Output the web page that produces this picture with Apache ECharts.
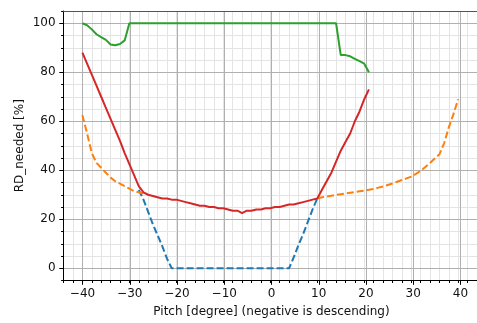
<!DOCTYPE html>
<html>
<head>
<meta charset="utf-8">
<script src="https://cdn.jsdelivr.net/npm/echarts@6/dist/echarts.min.js"></script>
<style>
  html, body { margin: 0; padding: 0; background: #ffffff; }
  #chart { width: 477px; height: 323px; }
</style>
</head>
<body>
<div id="chart"></div>
<script>
// Pitch angle in degrees (negative is descending)
const pitch = [
  -40, -39, -38, -37, -36, -35, -34, -33, -32, -31,
  -30, -29, -28, -27, -26, -25, -24, -23, -22, -21,
  -20, -19, -18, -17, -16, -15, -14, -13, -12, -11,
  -10, -9, -8, -7, -6, -5, -4, -3, -2, -1,
  0, 1, 2, 3, 4, 5, 6, 7, 8, 9,
  10, 11, 12, 13, 14, 15, 16, 17, 18, 19,
  20, 21, 22, 23, 24, 25, 26, 27, 28, 29,
  30, 31, 32, 33, 34, 35, 36, 37, 38, 39,
  40
];

// Required rudder deflection [%] per pitch (null = no value)
const rdBlue = [
  null, null, null, null, null, null, null, null, null, null,
  null, null, 32, 28, 23, 18, 13.5, 9, 4, 0,
  0, 0, 0, 0, 0, 0, 0, 0, 0, 0,
  0, 0, 0, 0, 0, 0, 0, 0, 0, 0,
  0, 0, 0, 0, 0, 4.5, 9.5, 14, 19, 24,
  28.5, null, null, null, null, null, null, null, null, null,
  null, null, null, null, null, null, null, null, null, null,
  null, null, null, null, null, null, null, null, null, null,
  null
];

const rdOrange = [
  62.5, 55, 47, 43, 41, 39, 37, 35.5, 34.5, 33.5,
  32.5, 31.5, 31, 30.5, null, null, null, null, null, null,
  null, null, null, null, null, null, null, null, null, null,
  null, null, null, null, null, null, null, null, null, null,
  null, null, null, null, null, null, null, null, null, null,
  28.5, 29, 29.3, 29.6, 29.9, 30.2, 30.5, 30.8, 31.1, 31.4,
  31.7, 32, 32.4, 32.9, 33.4, 34, 34.6, 35.3, 36, 36.7,
  37.4, 38.5, 39.8, 41.3, 43, 44.8, 46.5, 51, 57.5, 63,
  69
];

const rdGreen = [
  100, 99.2, 97.5, 95.5, 94.3, 93.2, 91.3, 91, 91.5, 93,
  100, 100, 100, 100, 100, 100, 100, 100, 100, 100,
  100, 100, 100, 100, 100, 100, 100, 100, 100, 100,
  100, 100, 100, 100, 100, 100, 100, 100, 100, 100,
  100, 100, 100, 100, 100, 100, 100, 100, 100, 100,
  100, 100, 100, 100, 100, 87, 87, 86.5, 85.5, 84.5,
  83.5, 80
];

const rdRed = [
  88, 83.5, 79, 74.5, 70, 65.5, 61, 56.5, 52, 47,
  42.5, 38, 33.5, 31, 30, 29.5, 29, 28.5, 28.5, 28,
  28, 27.5, 27, 26.5, 26, 25.5, 25.5, 25, 25, 24.5,
  24.5, 24, 23.5, 23.5, 22.5, 23.5, 23.5, 24, 24, 24.5,
  24.5, 25, 25, 25.5, 26, 26, 26.5, 27, 27.5, 28,
  28.5, 32, 35.5, 39, 43.5, 48, 51.5, 55, 60, 64,
  69, 73
];

const xTicks = [-40, -30, -20, -10, 0, 10, 20, 30, 40];
const yTicks = [0, 20, 40, 60, 80, 100];

const FONT = "'DejaVu Sans', 'Liberation Sans', sans-serif";
const MAJOR = '#b0b0b0';
const MINOR = '#e4e4e4';

function pairs(ys) {
  const out = [];
  for (let i = 0; i < ys.length; i++) out.push([pitch[i], ys[i]]);
  return out;
}
function fmt(v) {
  return v < 0 ? '\u2212' + Math.abs(v) : String(v);
}

// plot area: x from -44 to 44, y from -5 to 105
const plot = { left: 63.6, top: 11, width: 415.8, height: 269.5 };
const xSpan = 88, ySpan = 110;
const pxX = plot.width / xSpan, pxY = plot.height / ySpan;

const chart = echarts.init(document.getElementById('chart'), null, { renderer: 'canvas' });

const tickLabel = { fontFamily: FONT, fontSize: 12, color: '#111' };
const spineOnly = {
  axisTick: { show: false }, axisLabel: { show: false }, splitLine: { show: false }
};

chart.setOption({
  animation: false,
  backgroundColor: '#ffffff',
  grid: [
    // data area (minor grid, spines)
    { left: plot.left, top: plot.top, width: plot.width, height: plot.height },
    // major vertical lines / x labels
    { left: plot.left + (xTicks[0] + 44) * pxX, top: plot.top,
      width: (xTicks[xTicks.length - 1] - xTicks[0]) * pxX, height: plot.height },
    // major horizontal lines / y labels
    { left: plot.left, top: plot.top + (105 - yTicks[yTicks.length - 1]) * pxY,
      width: plot.width, height: (yTicks[yTicks.length - 1] - yTicks[0]) * pxY }
  ],
  xAxis: [
    { type: 'value', gridIndex: 0, min: -44, max: 44, interval: 2, z: 0, position: 'bottom',
      axisLine: { show: false, onZero: false },
      axisTick: { show: true, length: 2.5, lineStyle: { color: '#000', width: 1 } },
      axisLabel: { show: false },
      splitLine: { show: true, showMinLine: false, showMaxLine: false,
        lineStyle: { color: MINOR, width: 1 } } },
    { type: 'value', gridIndex: 1, min: xTicks[0], max: xTicks[xTicks.length - 1], interval: 10, z: 1,
      position: 'bottom',
      name: 'Pitch [degree] (negative is descending)',
      nameLocation: 'middle', nameGap: 25.5, nameMoveOverlap: false,
      nameTextStyle: { fontFamily: FONT, fontSize: 12, color: '#111' },
      axisLine: { show: false, onZero: false },
      axisTick: { show: true, length: 4.3, lineStyle: { color: '#000', width: 1 } },
      axisLabel: Object.assign({ margin: 7.5, formatter: fmt }, tickLabel),
      splitLine: { show: true, lineStyle: { color: MAJOR, width: 1 } } },
    { type: 'value', gridIndex: 2, min: -44, max: 44, show: false },
    // bottom spine
    Object.assign({ type: 'value', gridIndex: 0, min: -44, max: 44, position: 'bottom', z: 3,
      axisLine: { show: true, onZero: false, lineStyle: { color: '#000', width: 1 } } }, spineOnly),
    // top spine
    Object.assign({ type: 'value', gridIndex: 0, min: -44, max: 44, position: 'top', z: 3,
      axisLine: { show: true, onZero: false, lineStyle: { color: '#555', width: 1 } } }, spineOnly)
  ],
  yAxis: [
    { type: 'value', gridIndex: 0, min: -5, max: 105, interval: 5, z: 0, position: 'left',
      axisLine: { show: false, onZero: false },
      axisTick: { show: true, length: 2.5, lineStyle: { color: '#000', width: 1 } },
      axisLabel: { show: false },
      splitLine: { show: true, showMinLine: false, showMaxLine: false,
        lineStyle: { color: MINOR, width: 1 } } },
    { type: 'value', gridIndex: 1, min: -5, max: 105, show: false },
    { type: 'value', gridIndex: 2, min: yTicks[0], max: yTicks[yTicks.length - 1], interval: 20, z: 1,
      position: 'left',
      name: 'RD_needed [%]',
      nameLocation: 'middle', nameGap: 38, nameMoveOverlap: false,
      nameTextStyle: { fontFamily: FONT, fontSize: 12, color: '#111' },
      axisLine: { show: false, onZero: false },
      axisTick: { show: true, length: 4.3, lineStyle: { color: '#000', width: 1 } },
      axisLabel: Object.assign({ margin: 8, formatter: fmt }, tickLabel),
      splitLine: { show: true, lineStyle: { color: MAJOR, width: 1 } } },
    // left spine
    Object.assign({ type: 'value', gridIndex: 0, min: -5, max: 105, position: 'left', z: 3,
      axisLine: { show: true, onZero: false, lineStyle: { color: '#000', width: 1 } } }, spineOnly)
  ],
  series: [
    { type: 'line', xAxisIndex: 0, yAxisIndex: 0, data: pairs(rdBlue), showSymbol: false,
      lineStyle: { color: '#1f77b4', width: 2, type: [7, 3] }, z: 2 },
    { type: 'line', xAxisIndex: 0, yAxisIndex: 0, data: pairs(rdOrange), showSymbol: false,
      lineStyle: { color: '#ff7f0e', width: 2, type: [7, 3] }, z: 3 },
    { type: 'line', xAxisIndex: 0, yAxisIndex: 0, data: pairs(rdGreen), showSymbol: false,
      lineStyle: { color: '#2ca02c', width: 2 }, z: 4 },
    { type: 'line', xAxisIndex: 0, yAxisIndex: 0, data: pairs(rdRed), showSymbol: false,
      lineStyle: { color: '#d62728', width: 2 }, z: 5 }
  ]
});
</script>
</body>
</html>
